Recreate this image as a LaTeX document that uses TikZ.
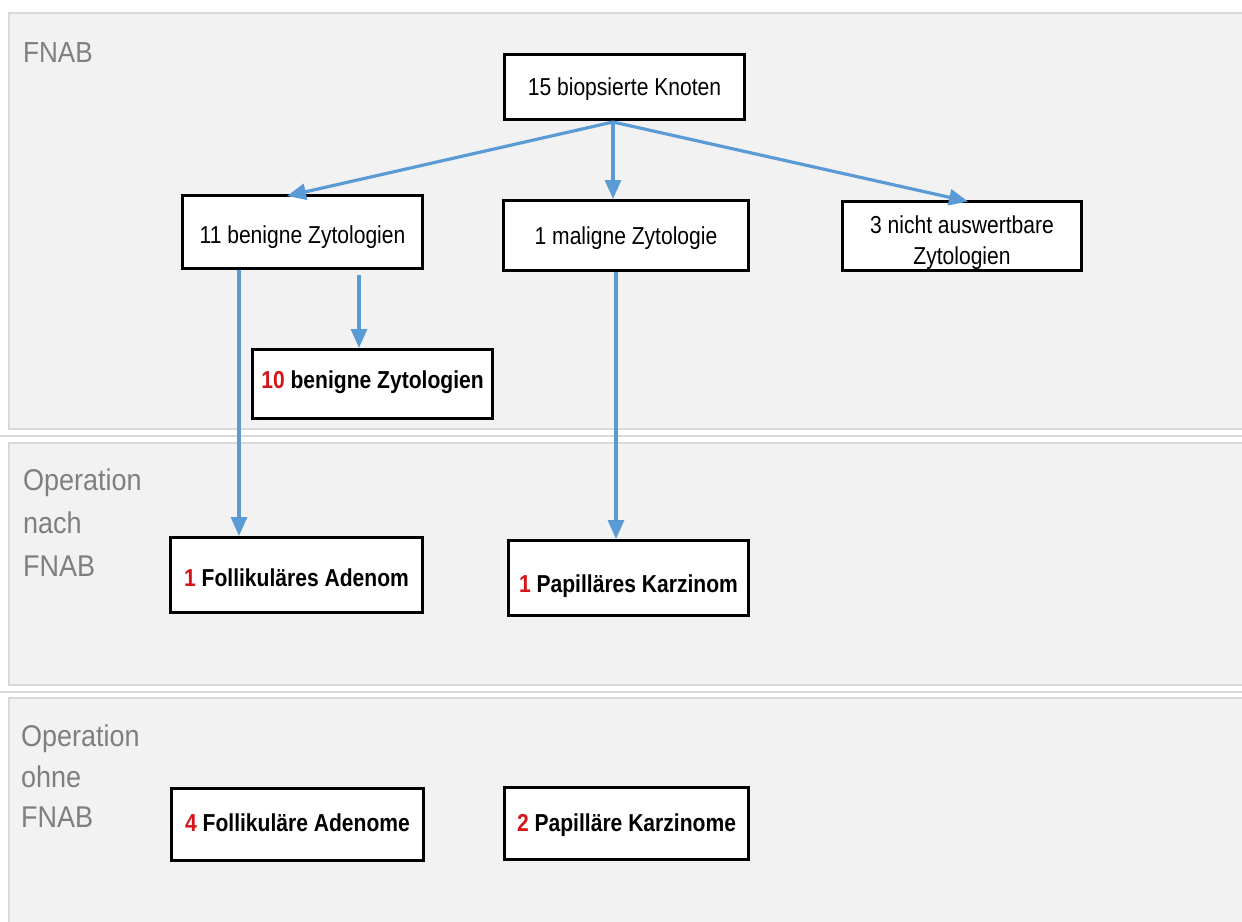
\documentclass[tikz,border=0pt]{standalone}
\usepackage{fontspec}
\setmainfont{Liberation Sans}[FakeStretch=0.9]
\newfontfamily\boxfont{Liberation Sans}[FakeStretch=0.86]
\usetikzlibrary{arrows.meta}
\definecolor{bandfill}{HTML}{F2F2F2}
\definecolor{bandline}{HTML}{D9D9D9}
\definecolor{arrowblue}{HTML}{5B9BD5}
\definecolor{labelgray}{HTML}{7F7F7F}
\definecolor{numred}{HTML}{D7141A}
\newcommand{\rednum}[1]{\textcolor{numred}{#1}}
\begin{document}
\begin{tikzpicture}[x=1pt,y=-1pt,
  band/.style={fill=bandfill,draw=bandline,line width=2.5pt},
  sepline/.style={draw=bandline,line width=2pt},
  boxbase/.style={draw=black,fill=white,line width=3pt,inner sep=0pt,
    font=\boxfont\fontsize{24.5}{31}\selectfont},
  box/.style={boxbase,text height=17.5pt,text depth=0pt},
  boldbox/.style={box,font=\boxfont\fontsize{24.5}{31}\selectfont\bfseries},
  lbl/.style={inner sep=0pt,text=labelgray,font=\fontsize{30}{43}\selectfont,align=left},
  flow/.style={draw=arrowblue,line width=3.2pt,-{Triangle[length=19pt,width=16pt]}}
]
\useasboundingbox (0,0) rectangle (1242,921);
\clip (0,0) rectangle (1242,921);
\fill[white] (0,0) rectangle (1242,921);

% bands
\draw[band] (9,13) rectangle (1265,429);
\draw[sepline] (-5,436) -- (1265,436);
\draw[band] (9,443) rectangle (1265,685);
\draw[sepline] (-5,692) -- (1265,692);
\draw[band] (9,698) rectangle (1265,940);

% band labels
\node[lbl,anchor=base west,font=\fontsize{29}{43}\selectfont] (lab1) at (23,62) {FNAB};
\node[lbl,anchor=north west] (lab2) at (23,469) {Operation\\nach\\FNAB};
\node[lbl,anchor=north west,font=\fontsize{30}{40.5}\selectfont] (lab3) at (21,725) {Operation\\ohne\\FNAB};

% boxes
\node[box,minimum width=240pt,minimum height=65pt] (K) at (624.5,87) {15 biopsierte Knoten};
\node[box,text height=23.5pt,minimum width=240pt,minimum height=73pt] (B) at (302.5,232) {11 benigne Zytologien};
\node[box,minimum width=245pt,minimum height=70pt] (M) at (626,235.5) {1 maligne Zytologie};
\node[boxbase,align=center,minimum width=239pt,minimum height=67pt] (N) at (962,236) {\rule{0pt}{32pt}3 nicht auswertbare\\Zytologien};
\node[boldbox,text depth=8pt,minimum width=240pt,minimum height=69pt] (B10) at (372.5,384) {\rednum{10} benigne Zytologien};
\node[boldbox,text height=23.5pt,minimum width=252pt,minimum height=75pt] (FA) at (296.5,575) {\rednum{1} Follikuläres Adenom};
\node[boldbox,text height=29.5pt,minimum width=240pt,minimum height=75pt] (PK) at (628.5,578) {\rednum{1} Papilläres Karzinom};
\node[boldbox,text depth=3pt,minimum width=252pt,minimum height=72pt] (FA4) at (297.5,824.5) {\rednum{4} Follikuläre Adenome};
\node[boldbox,text depth=2pt,minimum width=244pt,minimum height=72pt] (PK2) at (626.5,823.5) {\rednum{2} Papilläre Karzinome};

% connectors
\coordinate (j) at ([xshift=-11.5pt,yshift=-1pt]K.south);
\draw[flow] (j) -- ([xshift=-15.5pt,yshift=-2pt]B.north);
\draw[flow] (j) -- ([xshift=-13pt]M.north);
\draw[flow] (j) -- ([xshift=6pt,yshift=-1pt]N.north);
\coordinate (bl) at ([xshift=-63.5pt]B.south);
\draw[flow] (bl) -- (bl |- FA.north);
\coordinate (br) at ([xshift=56.5pt,yshift=-5pt]B.south);
\draw[flow] (br) -- (br |- B10.north);
\coordinate (mb) at ([xshift=-10pt]M.south);
\draw[flow] (mb) -- (mb |- PK.north);
\end{tikzpicture}
\end{document}
